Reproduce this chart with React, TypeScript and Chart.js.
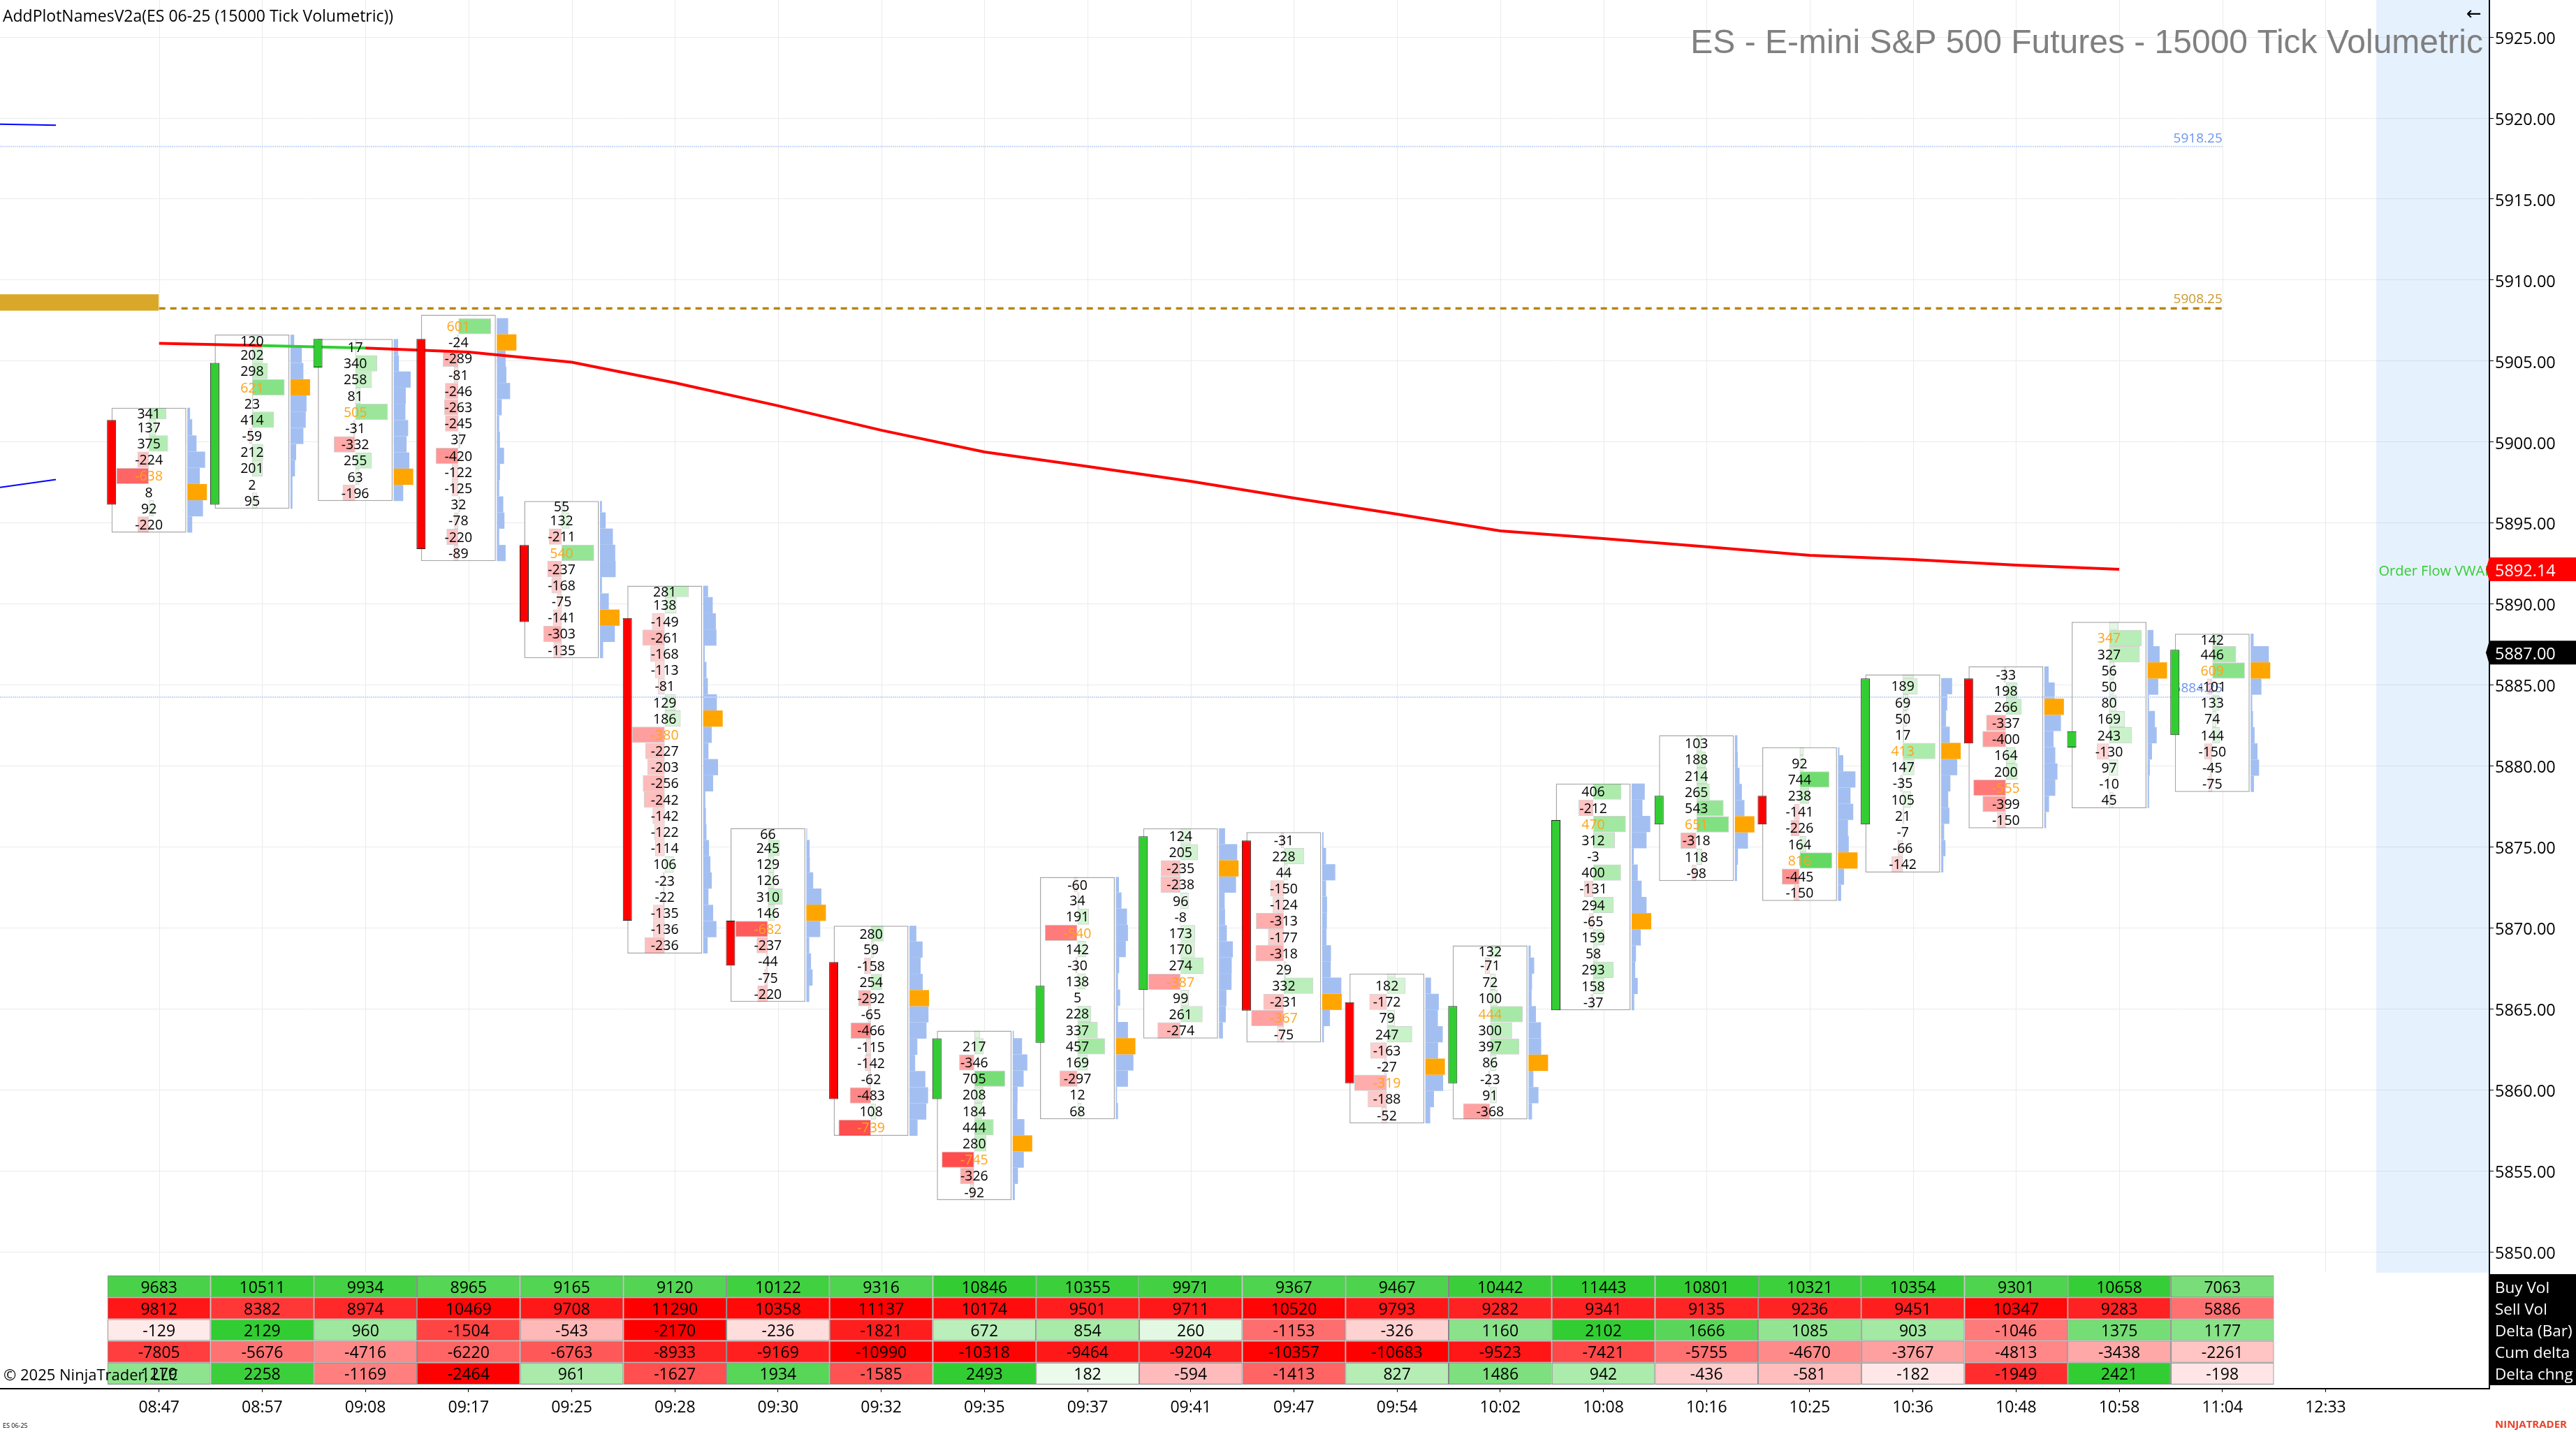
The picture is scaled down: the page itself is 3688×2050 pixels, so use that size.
import React, { useEffect, useRef } from 'react';
import { Chart, registerables, BarController } from 'chart.js';

Chart.register(...registerables);

// A bar whose thickness is exact and which is centred on its own index value.
class RowBarController extends BarController {
  static id = 'rowBar';
  static defaults = BarController.defaults;
  _calculateBarIndexPixels(index: number) {
    const scale = this._cachedMeta.iScale;
    const center = scale.getPixelForValue(this.getParsed(index)[scale.axis], index);
    const size = this.getDataset().barThickness;
    return { base: center - size / 2, head: center + size / 2, center, size };
  }
}
Chart.register(RowBarController as any);

// ---------- data ----------
const categories = ['08:47','08:57','09:08','09:17','09:25','09:28','09:30','09:32','09:35','09:37','09:41','09:47','09:54','10:02','10:08','10:16','10:25','10:36','10:48','10:58','11:04','12:33'];
const priceTicks = [5850,5855,5860,5865,5870,5875,5880,5885,5890,5895,5900,5905,5910,5915,5920,5925];

const buyVol = [9683,10511,9934,8965,9165,9120,10122,9316,10846,10355,9971,9367,9467,10442,11443,10801,10321,10354,9301,10658,7063];
const sellVol = [9812,8382,8974,10469,9708,11290,10358,11137,10174,9501,9711,10520,9793,9282,9341,9135,9236,9451,10347,9283,5886];
const deltaBar = [-129,2129,960,-1504,-543,-2170,-236,-1821,672,854,260,-1153,-326,1160,2102,1666,1085,903,-1046,1375,1177];
const cumDelta = [-7805,-5676,-4716,-6220,-6763,-8933,-9169,-10990,-10318,-9464,-9204,-10357,-10683,-9523,-7421,-5755,-4670,-3767,-4813,-3438,-2261];
const deltaChng = [1279,2258,-1169,-2464,961,-1627,1934,-1585,2493,182,-594,-1413,827,1486,942,-436,-581,-182,-1949,2421,-198];
const tableRows = ['Buy Vol','Sell Vol','Delta (Bar)','Cum delta','Delta chng'];

const boxHigh = [5902.12,5906.63,5906.36,5907.86,5896.36,5891.13,5876.17,5870.14,5863.66,5873.15,5876.16,5875.92,5867.19,5868.92,5878.92,5881.90,5881.16,5885.65,5886.15,5888.90,5888.17];
const boxLow = [5894.41,5895.88,5896.36,5892.65,5886.66,5868.43,5865.44,5857.17,5853.20,5858.20,5863.18,5862.94,5857.94,5858.18,5864.92,5872.90,5871.67,5873.43,5876.16,5877.40,5878.40];
const candleOpen = [5901.36,5896.13,5904.61,5906.36,5893.64,5889.14,5870.45,5867.90,5859.43,5862.92,5866.17,5875.40,5865.42,5860.42,5864.92,5876.39,5878.16,5876.39,5885.41,5881.15,5881.91];
const candleClose = [5896.13,5904.89,5906.36,5893.39,5888.89,5870.45,5867.68,5859.43,5863.19,5866.43,5875.66,5864.90,5860.42,5865.18,5876.66,5878.16,5876.39,5885.41,5881.40,5882.15,5887.17];

const deltaRows: (number | null)[][] = [
  [341,137,375,-224,-638,8,92,-220],
  [120,202,298,621,23,414,-59,212,201,2,95],
  [17,340,258,81,505,-31,-332,255,63,-196],
  [null,601,-24,-289,-81,-246,-263,-245,37,-420,-122,-125,32,-78,-220,-89],
  [55,132,-211,540,-237,-168,-75,-141,-303,-135],
  [281,138,-149,-261,-168,-113,-81,129,186,-380,-227,-203,-256,-242,-142,-122,-114,106,-23,-22,-135,-136,-236],
  [66,245,129,126,310,146,-682,-237,-44,-75,-220],
  [280,59,-158,254,-292,-65,-466,-115,-142,-62,-483,108,-739],
  [135,217,-346,705,208,184,444,280,-745,-326,-92],
  [-60,34,191,-540,142,-30,138,5,228,337,457,169,-297,12,68],
  [124,205,-235,-238,96,-8,173,170,274,-387,99,261,-274],
  [-31,228,44,-150,-124,-313,-177,-318,29,332,-231,-367,-75],
  [84,182,-172,79,247,-163,-27,-319,-188,-52],
  [132,-71,72,100,444,300,397,86,-23,91,-368],
  [406,-212,470,312,-3,400,-131,294,-65,159,58,293,158,-37],
  [103,188,214,265,543,651,-318,118,-98],
  [105,92,744,238,-141,-226,164,816,-445,-150],
  [140,189,69,50,17,413,147,-35,105,21,-7,-66,-142],
  [-33,198,266,-337,-400,164,200,-555,-399,-150],
  [100,347,327,56,50,80,169,243,-130,97,-10,45],
  [142,446,609,-101,133,74,144,-150,-45,-75],
];

const profileRows: number[][] = [
  [14,25,47,91,64,100,80,25],
  [19,58,66,100,82,78,66,29,23,10,10],
  [23,27,87,62,60,74,66,80,100,49],
  [0,58,100,45,49,68,25,12,16,37,16,12,33,39,12,45],
  [10,29,66,78,80,10,45,100,76,16],
  [25,49,65,68,8,17,24,70,100,44,27,76,51,11,14,17,30,37,44,27,51,68,23],
  [4,17,18,35,77,100,71,15,24,32,15],
  [35,67,57,68,100,97,87,40,29,81,95,86,41],
  [6,48,75,56,25,24,60,100,57,27,11],
  [16,29,57,62,51,17,11,22,11,62,100,90,62,6,11],
  [31,93,100,87,29,31,40,71,65,64,38,35,20],
  [7,20,67,20,25,24,22,45,44,98,100,40,9],
  [0,29,69,64,89,65,100,91,44,25],
  [11,29,18,16,38,64,65,100,25,51,18],
  [67,55,95,76,11,31,51,76,100,47,22,18,31,13],
  [13,15,24,36,49,100,67,16,11],
  [7,27,89,64,78,51,55,100,31,16],
  [0,56,31,25,44,100,82,47,36,42,15,22,11],
  [22,53,100,85,47,56,67,56,24,9],
  [0,30,62,100,55,8,38,47,23,12,8,8],
  [15,93,100,55,8,12,20,35,43,17],
];

const vwap = [5906.10,5905.95,5905.80,5905.56,5904.93,5903.66,5902.24,5900.73,5899.39,5898.49,5897.58,5896.54,5895.55,5894.52,5894.04,5893.53,5893.01,5892.75,5892.40,5892.14];
const blueUpper = [5919.63,5919.56];
const blueLower = [5897.20,5897.69];
const levelUpper = 5918.25;
const levelGold = 5908.25;
const levelLower = 5884.25;
const goldBandCenter = 5908.62;

// ---------- layout constants ----------
const W = 3688, H = 2050;
const PLOT_RIGHT = 3564, PLOT_BOTTOM = 1988, PANEL_BOTTOM = 1822;
const X_MIN = -1.5416, X_MAX = 22.588;
const Y_MIN = 5841.56, Y_MAX = 5927.29;
const PX_PER_IDX = PLOT_RIGHT / (X_MAX - X_MIN);
const PX_PER_PT = PLOT_BOTTOM / (Y_MAX - Y_MIN);
const TBL_ROW = 31.2, TBL_TOP = 1826;
const T_MIN = -TBL_TOP / TBL_ROW, T_MAX = (PLOT_BOTTOM - TBL_TOP) / TBL_ROW;
const px = (p: number) => p / PX_PER_IDX;
const CENTER = px(-14.5), BOX_W = 107, CANDLE_X = px(-68), CANDLE_W = 13;
const CELL_MAX = px(46.7), PROFILE_X = px(40.5), PROFILE_MAX = px(28);
const FONT = '"Open Sans"';
const GREEN = '50,205,50', RED = '255,0,0';

const rowInfo = (bar: number) => {
  const n = deltaRows[bar].length;
  const frac = boxHigh[bar] - boxLow[bar] - (n - 1);
  return Array.from({ length: n }, (_, k) => {
    const bottom = boxLow[bar] + (n - 1 - k);
    const isTop = k === 0;
    return { center: isTop ? bottom + frac / 2 : bottom + 0.5, height: isTop ? frac : 1 };
  });
};
const barMax = (bar: number) => Math.max(...deltaRows[bar].map((v) => Math.abs(v ?? 0)));
const cellColor = (v: number) => `rgba(${v < 0 ? RED : GREEN},${Math.min(1, 0.05 + Math.abs(v) / 1150).toFixed(3)})`;

const hbars = (id: string, data: any[], thickness: number, color: any, order: number, border = 'rgba(128,128,128,0.35)', bw = 1) => ({
  id, type: 'rowBar', indexAxis: 'y', data, barThickness: thickness, backgroundColor: color,
  borderColor: border, borderWidth: bw, borderSkipped: false, inflateAmount: 0, order,
});

const buildDatasets = () => {
  const ds: any[] = [];
  const lineDs = (id: string, data: any[], color: any, width: number, order: number, extra: any = {}) => ({
    id, type: 'line', data, borderColor: color, borderWidth: width, pointRadius: 0, tension: 0, order, ...extra,
  });

  // candles
  ds.push({
    id: 'candles', type: 'rowBar', indexAxis: 'x', barThickness: CANDLE_W, order: 1,
    data: candleOpen.map((o, i) => ({ x: i + CANDLE_X, y: [o, candleClose[i]] })),
    backgroundColor: candleOpen.map((o, i) => (candleClose[i] >= o ? '#32cd32' : '#ff0000')),
    borderColor: '#222', borderWidth: 1, borderSkipped: false, inflateAmount: 0,
  });
  // VWAP
  ds.push(lineDs('vwap', vwap.map((y, i) => ({ x: i, y })), '#ff0000', 4, 3, {
    segment: { borderColor: (c: any) => (c.p0DataIndex === 1 ? '#32cd32' : '#ff0000') },
  }));
  ds.push(lineDs('blueUpper', blueUpper.map((y, i) => ({ x: i === 0 ? X_MIN : -1, y })), '#0000ff', 2, 3));
  ds.push(lineDs('blueLower', blueLower.map((y, i) => ({ x: i === 0 ? X_MIN : -1, y })), '#0000ff', 2, 3));

  // footprint cells and profile
  const fullCells: any[] = [], fullCellColors: string[] = [];
  const fullProf: any[] = [];
  const pocs: any[] = [];
  deltaRows.forEach((rows, bar) => {
    const info = rowInfo(bar);
    const c = bar + CENTER;
    const mx = barMax(bar);
    const base = bar + PROFILE_X;
    rows.forEach((v, k) => {
      const p = profileRows[bar][k];
      if (k === 0) {
        if (v !== null) {
          ds.push(hbars(`cellTop${bar}`, [{ x: [c, c + (v / mx) * CELL_MAX], y: info[0].center }], info[0].height * PX_PER_PT, cellColor(v), 4));
        }
        if (p > 0) {
          ds.push(hbars(`profTop${bar}`, [{ x: [base, base + (p / 100) * PROFILE_MAX], y: info[0].center }], info[0].height * PX_PER_PT, '#a3bff2', 6, '#a3bff2', 0));
        }
      } else {
        if (v !== null) {
          fullCells.push({ x: [c, c + (v / mx) * CELL_MAX], y: info[k].center });
          fullCellColors.push(cellColor(v));
        }
        if (p === 100) pocs.push({ x: [base, base + PROFILE_MAX], y: info[k].center });
        else if (p > 0) fullProf.push({ x: [base, base + (p / 100) * PROFILE_MAX], y: info[k].center });
      }
    });
  });
  ds.push(hbars('cells', fullCells, PX_PER_PT, fullCellColors, 4));
  ds.push(hbars('profile', fullProf, PX_PER_PT, '#a3bff2', 6, '#a3bff2', 0));
  ds.push(hbars('poc', pocs, PX_PER_PT, '#ffa500', 5.5, '#ffa500', 0));

  // level lines
  ds.push(lineDs('levelGold', [{ x: 0, y: levelGold }, { x: 20, y: levelGold }], '#b8860b', 3.5, 5, { borderDash: [9, 7] }));
  ds.push(lineDs('levelUpper', [{ x: X_MIN, y: levelUpper }, { x: 20, y: levelUpper }], '#c6d7f8', 2, 5, { borderDash: [2, 1] }));
  ds.push(lineDs('levelLower', [{ x: X_MIN, y: levelLower }, { x: 20, y: levelLower }], '#c6d7f8', 2, 5, { borderDash: [2, 1] }));

  // boxes
  ds.push({
    id: 'boxes', type: 'rowBar', indexAxis: 'x', barThickness: BOX_W, order: 7,
    data: boxHigh.map((h, i) => ({ x: i + CENTER, y: [boxLow[i], h] })),
    backgroundColor: '#ffffff', borderColor: '#a8a8a8', borderWidth: 1.5, borderSkipped: false, inflateAmount: 0,
  });
  // gold band
  ds.push(hbars('goldBand', [{ x: [X_MIN, 0], y: goldBandCenter }], PX_PER_PT * 1.01, '#daa829', 7, '#daa829', 0));

  // table
  const tbl = [buyVol, sellVol, deltaBar, cumDelta, deltaChng];
  tbl.forEach((row, r) => {
    const mx = Math.max(...row.map(Math.abs));
    ds.push({
      ...hbars(`table${r}`, row.map((_, i) => ({ x: [i - 0.5, i + 0.5], y: r + 0.5 })), TBL_ROW,
        row.map((v) => {
          const base = r === 0 ? GREEN : r === 1 ? RED : v < 0 ? RED : GREEN;
          return `rgba(${base},${Math.min(1, 0.02 + (Math.abs(v) / mx) * 1.03).toFixed(3)})`;
        }), 8, '#858585', 1),
      yAxisID: 'yt',
    });
  });
  return ds;
};

const fillText = (ctx: any, text: string, x: number, y: number, font: string, color: string, align: any = 'left') => {
  ctx.font = font;
  ctx.fillStyle = color;
  ctx.textAlign = align;
  ctx.textBaseline = 'middle';
  ctx.fillText(text, x, y);
};

const overlay = {
  id: 'overlay',
  beforeDatasetsDraw(chart: any) {
    const { ctx, scales } = chart;
    const { x } = scales;
    ctx.save();
    // session band
    ctx.fillStyle = 'rgba(5,115,245,0.1)';
    ctx.fillRect(3402, 0, PLOT_RIGHT - 3402, PANEL_BOTTOM);
    // vertical grid
    ctx.strokeStyle = '#ebebeb';
    ctx.lineWidth = 1;
    categories.forEach((_, i) => {
      const xp = Math.round(x.getPixelForValue(i)) + 0.5;
      ctx.beginPath();
      ctx.moveTo(xp, 0);
      ctx.lineTo(xp, PANEL_BOTTOM);
      ctx.stroke();
    });
    fillText(ctx, 'ES - E-mini S&P 500 Futures - 15000 Tick Volumetric', 3555, 63, '48px "Liberation Sans"', '#808080', 'right');
    ctx.restore();
  },
  afterDatasetDraw(chart: any, args: any) {
    if (chart.data.datasets[args.index].id !== 'levelLower') return;
    const { ctx, scales } = chart;
    const { x, y } = scales;
    ctx.save();
    const r = x.getPixelForValue(20);
    fillText(ctx, levelUpper.toFixed(2), r, y.getPixelForValue(levelUpper) - 11, `19px ${FONT}`, '#6d94ef', 'right');
    fillText(ctx, levelGold.toFixed(2), r, y.getPixelForValue(levelGold) - 13, `19px ${FONT}`, '#c8992e', 'right');
    fillText(ctx, levelLower.toFixed(2), r, y.getPixelForValue(levelLower) - 12, `19px ${FONT}`, '#6d94ef', 'right');
    ctx.restore();
  },
  afterDraw(chart: any) {
    const { ctx, scales } = chart;
    const { x, y, yt } = scales;
    ctx.save();
    // footprint text
    deltaRows.forEach((rows, bar) => {
      const info = rowInfo(bar);
      const mx = barMax(bar);
      const cx = x.getPixelForValue(bar + CENTER);
      rows.forEach((v, k) => {
        if (v === null || info[k].height <= 0.5) return;
        const color = Math.abs(v) === mx ? '#ffa31a' : '#000';
        fillText(ctx, String(v), cx, y.getPixelForValue(info[k].center) + 1.5, `19.5px ${FONT}`, color, 'center');
      });
    });
    // table text
    [buyVol, sellVol, deltaBar, cumDelta, deltaChng].forEach((row, r) => {
      row.forEach((v, i) => {
        fillText(ctx, String(v), x.getPixelForValue(i), yt.getPixelForValue(r + 0.5) + 2.5, `23px ${FONT}`, '#000', 'center');
      });
    });
    // right label panel
    ctx.fillStyle = '#000';
    ctx.fillRect(PLOT_RIGHT, yt.getPixelForValue(0) - 2, W - PLOT_RIGHT, TBL_ROW * 5 + 3);
    tableRows.forEach((t, r) => {
      fillText(ctx, t, 3572, yt.getPixelForValue(r + 0.5) + 2.5, `22.5px ${FONT}`, '#fff');
    });
    // price markers
    const marker = (price: number, bg: string) => {
      const yp = y.getPixelForValue(price);
      ctx.fillStyle = bg;
      ctx.beginPath();
      ctx.moveTo(3559, yp);
      ctx.lineTo(3564, yp - 17);
      ctx.lineTo(W, yp - 17);
      ctx.lineTo(W, yp + 17);
      ctx.lineTo(3564, yp + 17);
      ctx.closePath();
      ctx.fill();
      fillText(ctx, price.toFixed(2), 3572, yp + 3, `23.5px ${FONT}`, '#fff');
    };
    fillText(ctx, 'Order Flow VWAP', 3405.5, y.getPixelForValue(vwap[vwap.length - 1]) + 3, `20px ${FONT}`, '#32cd32');
    marker(vwap[vwap.length - 1], '#ff0000');
    marker(5887, '#000000');
    // captions
    fillText(ctx, 'AddPlotNamesV2a(ES 06-25 (15000 Tick Volumetric))', 4, 24, `23px ${FONT}`, '#000');
    fillText(ctx, '\u2190', 3542, 21, '26px "DejaVu Sans"', '#000', 'center');
    fillText(ctx, '\u00a9 2025 NinjaTrader, LLC', 5, 1970, `22px ${FONT}`, '#000');
    fillText(ctx, 'ES 06-25', 4, 2041, `9px ${FONT}`, '#000');
    fillText(ctx, 'NINJATRADER', 3572, 2040, `bold 15px ${FONT}`, '#e8452a');
    ctx.restore();
  },
};

const noPad = (s: any) => { s.paddingTop = 0; s.paddingBottom = 0; s.paddingLeft = 0; s.paddingRight = 0; };

export default function App() {
  const ref = useRef<HTMLCanvasElement>(null);
  useEffect(() => {
    const chart = new Chart(ref.current as HTMLCanvasElement, {
      type: 'bar',
      data: { datasets: buildDatasets() as any },
      options: {
        animation: false,
        responsive: false,
        devicePixelRatio: 1,
        events: [],
        layout: { autoPadding: false, padding: 0 },
        plugins: { legend: { display: false }, tooltip: { enabled: false }, title: { display: false } },
        scales: {
          x: {
            type: 'linear', min: X_MIN, max: X_MAX, offset: false,
            afterFit: (s: any) => { s.height = H - PLOT_BOTTOM; noPad(s); },
            afterBuildTicks: (s: any) => { s.ticks = categories.map((_, i) => ({ value: i })); },
            grid: { drawOnChartArea: false, tickColor: '#000', tickLength: 5, offset: false },
            border: { color: '#000', width: 2 },
            ticks: {
              autoSkip: false, maxRotation: 0, padding: 9, color: '#000',
              font: { family: 'Open Sans', size: 23 },
              callback: (v: any) => categories[v] ?? '',
            },
          },
          y: {
            type: 'linear', position: 'right', min: Y_MIN, max: Y_MAX, offset: false,
            afterFit: (s: any) => { s.width = W - PLOT_RIGHT; noPad(s); },
            afterBuildTicks: (s: any) => { s.ticks = priceTicks.map((value) => ({ value })); },
            grid: { color: '#ebebeb', tickColor: '#000', tickLength: 6, offset: false },
            border: { color: '#000', width: 2 },
            ticks: {
              padding: 2, labelOffset: 3, color: '#000', font: { family: 'Open Sans', size: 23.5 },
              callback: (v: any) => Number(v).toFixed(2),
            },
          },
          yt: { type: 'linear', axis: 'y', display: false, reverse: true, min: T_MIN, max: T_MAX, offset: false },
        },
      } as any,
      plugins: [overlay as any],
    });
    return () => chart.destroy();
  }, []);
  return <canvas ref={ref} width={W} height={H} style={{ position: 'fixed', left: 0, top: 0, display: 'block', background: '#fff' }} />;
}
